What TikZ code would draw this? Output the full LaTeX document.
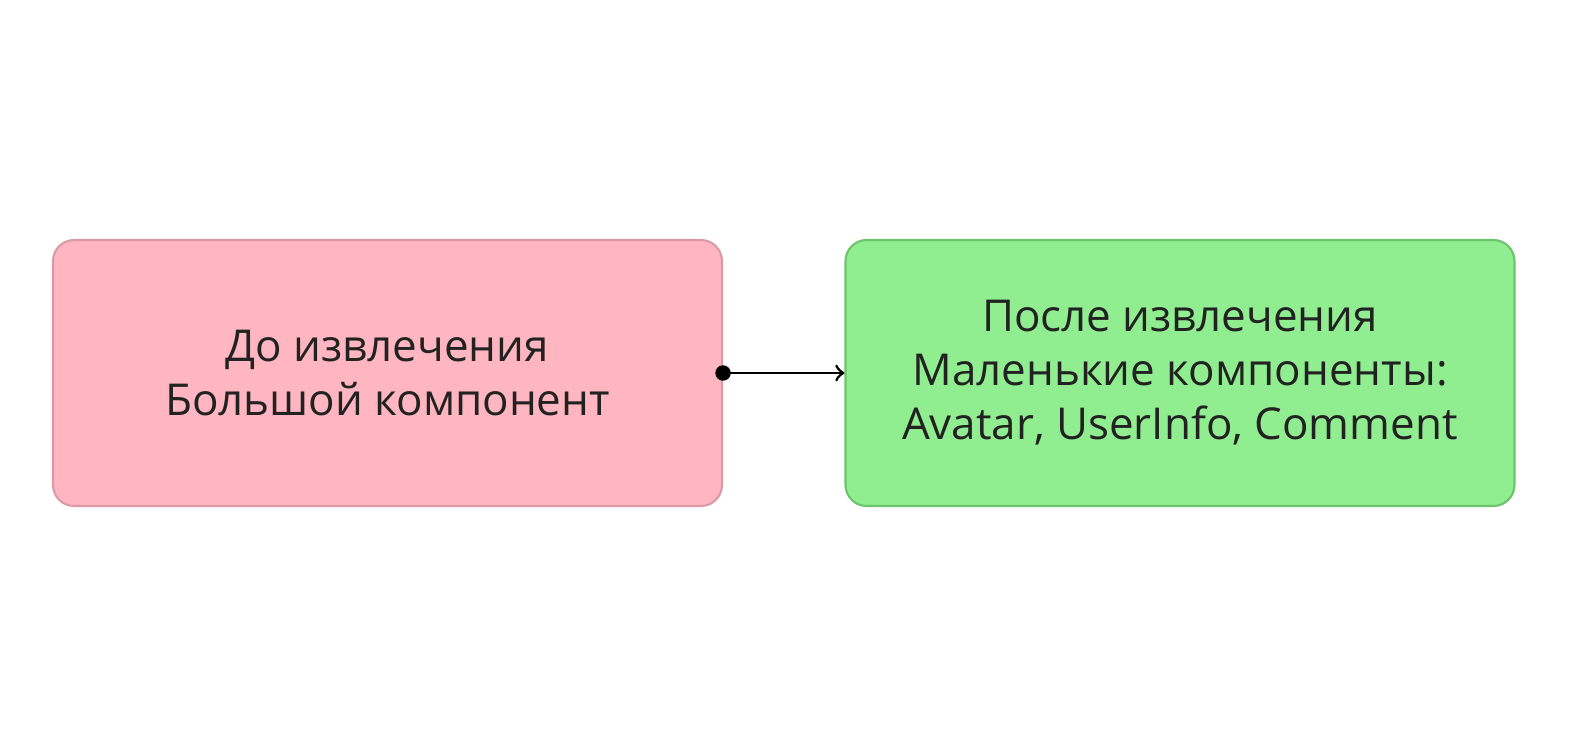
\documentclass[tikz,border=0pt]{standalone}
\usepackage{fontspec}
\setmainfont{Open Sans}
\usepackage{tikz}
\usetikzlibrary{positioning}
\definecolor{pinkfill}{HTML}{FFB6C1}
\definecolor{pinkline}{HTML}{D99AA5}
\definecolor{greenfill}{HTML}{90EE90}
\definecolor{greenline}{HTML}{6CC46C}
\definecolor{textgray}{HTML}{222222}
\begin{document}
\begin{tikzpicture}[
    box/.style={rectangle, rounded corners=6pt, minimum width=6.69cm, minimum height=2.66cm,
                align=center, font=\fontsize{12.5pt}{15.4pt}\selectfont, text=textgray, line width=0.6pt}]
    \useasboundingbox (0,0) rectangle (15.75,7.5);
    \node[box, fill=pinkfill, draw=pinkline] (before) at (3.875,3.77)
        {До извлечения\\Большой компонент};
    \node[box, fill=greenfill, draw=greenline] (after) at (11.80,3.77)
        {После извлечения\\Маленькие компоненты:\\Avatar, UserInfo, Comment};
    \fill (before.east) circle (2.2pt);
    \draw[->, line width=0.8pt] (before.east) -- (after.west);
\end{tikzpicture}
\end{document}
